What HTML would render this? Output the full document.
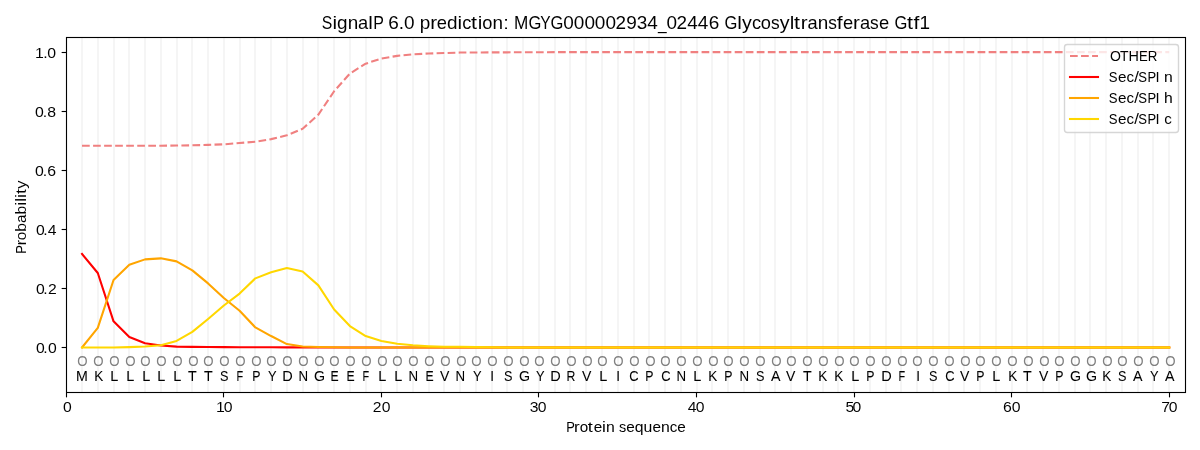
<!DOCTYPE html>
<html lang="en"><head><meta charset="utf-8"><title>SignalP 6.0 prediction</title>
<style>html,body{margin:0;padding:0;background:#fff;}body{width:1200px;height:450px;overflow:hidden;font-family:"Liberation Sans",sans-serif;}svg{display:block;will-change:transform;}text{font-family:"Liberation Sans",sans-serif;}</style>
</head><body>
<svg width="1200" height="450" viewBox="0 0 1200 450">
<rect x="0" y="0" width="1200" height="450" fill="#ffffff"/>
<g stroke="#f5f5f5" stroke-width="2.083" fill="none">
<line x1="82" y1="37.5" x2="82" y2="392.5"/>
<line x1="98" y1="37.5" x2="98" y2="392.5"/>
<line x1="114" y1="37.5" x2="114" y2="392.5"/>
<line x1="129" y1="37.5" x2="129" y2="392.5"/>
<line x1="145" y1="37.5" x2="145" y2="392.5"/>
<line x1="161" y1="37.5" x2="161" y2="392.5"/>
<line x1="177" y1="37.5" x2="177" y2="392.5"/>
<line x1="192" y1="37.5" x2="192" y2="392.5"/>
<line x1="208" y1="37.5" x2="208" y2="392.5"/>
<line x1="224" y1="37.5" x2="224" y2="392.5"/>
<line x1="240" y1="37.5" x2="240" y2="392.5"/>
<line x1="255" y1="37.5" x2="255" y2="392.5"/>
<line x1="271" y1="37.5" x2="271" y2="392.5"/>
<line x1="287" y1="37.5" x2="287" y2="392.5"/>
<line x1="303" y1="37.5" x2="303" y2="392.5"/>
<line x1="318" y1="37.5" x2="318" y2="392.5"/>
<line x1="334" y1="37.5" x2="334" y2="392.5"/>
<line x1="350" y1="37.5" x2="350" y2="392.5"/>
<line x1="366" y1="37.5" x2="366" y2="392.5"/>
<line x1="381" y1="37.5" x2="381" y2="392.5"/>
<line x1="397" y1="37.5" x2="397" y2="392.5"/>
<line x1="413" y1="37.5" x2="413" y2="392.5"/>
<line x1="429" y1="37.5" x2="429" y2="392.5"/>
<line x1="444" y1="37.5" x2="444" y2="392.5"/>
<line x1="460" y1="37.5" x2="460" y2="392.5"/>
<line x1="476" y1="37.5" x2="476" y2="392.5"/>
<line x1="492" y1="37.5" x2="492" y2="392.5"/>
<line x1="507" y1="37.5" x2="507" y2="392.5"/>
<line x1="523" y1="37.5" x2="523" y2="392.5"/>
<line x1="539" y1="37.5" x2="539" y2="392.5"/>
<line x1="555" y1="37.5" x2="555" y2="392.5"/>
<line x1="570" y1="37.5" x2="570" y2="392.5"/>
<line x1="586" y1="37.5" x2="586" y2="392.5"/>
<line x1="602" y1="37.5" x2="602" y2="392.5"/>
<line x1="618" y1="37.5" x2="618" y2="392.5"/>
<line x1="634" y1="37.5" x2="634" y2="392.5"/>
<line x1="649" y1="37.5" x2="649" y2="392.5"/>
<line x1="665" y1="37.5" x2="665" y2="392.5"/>
<line x1="681" y1="37.5" x2="681" y2="392.5"/>
<line x1="697" y1="37.5" x2="697" y2="392.5"/>
<line x1="712" y1="37.5" x2="712" y2="392.5"/>
<line x1="728" y1="37.5" x2="728" y2="392.5"/>
<line x1="744" y1="37.5" x2="744" y2="392.5"/>
<line x1="760" y1="37.5" x2="760" y2="392.5"/>
<line x1="775" y1="37.5" x2="775" y2="392.5"/>
<line x1="791" y1="37.5" x2="791" y2="392.5"/>
<line x1="807" y1="37.5" x2="807" y2="392.5"/>
<line x1="823" y1="37.5" x2="823" y2="392.5"/>
<line x1="838" y1="37.5" x2="838" y2="392.5"/>
<line x1="854" y1="37.5" x2="854" y2="392.5"/>
<line x1="870" y1="37.5" x2="870" y2="392.5"/>
<line x1="886" y1="37.5" x2="886" y2="392.5"/>
<line x1="901" y1="37.5" x2="901" y2="392.5"/>
<line x1="917" y1="37.5" x2="917" y2="392.5"/>
<line x1="933" y1="37.5" x2="933" y2="392.5"/>
<line x1="949" y1="37.5" x2="949" y2="392.5"/>
<line x1="964" y1="37.5" x2="964" y2="392.5"/>
<line x1="980" y1="37.5" x2="980" y2="392.5"/>
<line x1="996" y1="37.5" x2="996" y2="392.5"/>
<line x1="1012" y1="37.5" x2="1012" y2="392.5"/>
<line x1="1027" y1="37.5" x2="1027" y2="392.5"/>
<line x1="1043" y1="37.5" x2="1043" y2="392.5"/>
<line x1="1059" y1="37.5" x2="1059" y2="392.5"/>
<line x1="1075" y1="37.5" x2="1075" y2="392.5"/>
<line x1="1090" y1="37.5" x2="1090" y2="392.5"/>
<line x1="1106" y1="37.5" x2="1106" y2="392.5"/>
<line x1="1122" y1="37.5" x2="1122" y2="392.5"/>
<line x1="1138" y1="37.5" x2="1138" y2="392.5"/>
<line x1="1153" y1="37.5" x2="1153" y2="392.5"/>
<line x1="1169" y1="37.5" x2="1169" y2="392.5"/>
</g>
<defs><clipPath id="ax"><rect x="66.28" y="37.33" width="1118.72" height="354.39"/></clipPath></defs>
<g clip-path="url(#ax)" fill="none" stroke-width="2.083" stroke-linejoin="round">
<polyline points="82.03,145.72 97.79,145.72 113.55,145.72 129.30,145.72 145.06,145.72 160.82,145.72 176.57,145.57 192.33,145.30 208.09,144.89 223.84,144.30 239.60,143.06 255.36,141.70 271.11,139.13 286.87,135.29 302.63,128.80 318.38,114.62 334.14,91.29 349.90,73.57 365.65,63.68 381.41,58.51 397.17,55.85 412.92,54.37 428.68,53.49 444.44,53.04 460.19,52.57 475.95,52.48 491.71,52.39 507.46,52.34 523.22,52.28 538.98,52.22 554.73,52.16 570.49,52.10 586.25,52.10 602.00,52.10 617.76,52.10 633.52,52.10 649.27,52.10 665.03,52.10 680.79,52.10 696.54,52.10 712.30,52.10 728.06,52.10 743.81,52.10 759.57,52.10 775.33,52.10 791.08,52.10 806.84,52.10 822.60,52.10 838.35,52.10 854.11,52.10 869.87,52.10 885.62,52.10 901.38,52.10 917.14,52.10 932.89,52.10 948.65,52.10 964.41,52.10 980.16,52.10 995.92,52.10 1011.68,52.10 1027.43,52.10 1043.19,52.10 1058.95,52.10 1074.70,52.10 1090.46,52.10 1106.22,52.10 1121.97,52.10 1137.73,52.10 1153.49,52.10 1169.24,52.10" stroke="#f08080" stroke-dasharray="7.708 3.333" stroke-linecap="butt"/>
<polyline points="82.03,253.98 97.79,273.00 113.55,321.35 129.30,337.06 145.06,343.26 160.82,345.56 176.57,346.63 192.33,346.89 208.09,347.04 223.84,347.13 239.60,347.22 255.36,347.28 271.11,347.31 286.87,347.34 302.63,347.36 318.38,347.42 334.14,347.42 349.90,347.42 365.65,347.42 381.41,347.42 397.17,347.42 412.92,347.42 428.68,347.42 444.44,347.42 460.19,347.42 475.95,347.42 491.71,347.42 507.46,347.42 523.22,347.42 538.98,347.42 554.73,347.42 570.49,347.42 586.25,347.42 602.00,347.42 617.76,347.42 633.52,347.42 649.27,347.42 665.03,347.42 680.79,347.42 696.54,347.42 712.30,347.42 728.06,347.42 743.81,347.42 759.57,347.42 775.33,347.42 791.08,347.42 806.84,347.42 822.60,347.42 838.35,347.42 854.11,347.42 869.87,347.42 885.62,347.42 901.38,347.42 917.14,347.42 932.89,347.42 948.65,347.42 964.41,347.42 980.16,347.42 995.92,347.42 1011.68,347.42 1027.43,347.42 1043.19,347.42 1058.95,347.42 1074.70,347.42 1090.46,347.42 1106.22,347.42 1121.97,347.42 1137.73,347.42 1153.49,347.42 1169.24,347.42" stroke="#ff0000" stroke-linecap="square"/>
<polyline points="82.03,347.42 97.79,327.87 113.55,280.03 129.30,264.82 145.06,259.36 160.82,258.35 176.57,261.37 192.33,270.37 208.09,283.40 223.84,298.05 239.60,310.74 255.36,327.43 271.11,336.05 286.87,344.06 302.63,346.48 318.38,346.92 334.14,347.19 349.90,347.42 365.65,347.42 381.41,347.42 397.17,347.42 412.92,347.42 428.68,347.42 444.44,347.42 460.19,347.42 475.95,347.42 491.71,347.42 507.46,347.42 523.22,347.42 538.98,347.42 554.73,347.42 570.49,347.42 586.25,347.42 602.00,347.42 617.76,347.42 633.52,347.42 649.27,347.42 665.03,347.42 680.79,347.42 696.54,347.42 712.30,347.42 728.06,347.42 743.81,347.42 759.57,347.42 775.33,347.42 791.08,347.42 806.84,347.42 822.60,347.42 838.35,347.42 854.11,347.42 869.87,347.42 885.62,347.42 901.38,347.42 917.14,347.42 932.89,347.42 948.65,347.42 964.41,347.42 980.16,347.42 995.92,347.42 1011.68,347.42 1027.43,347.42 1043.19,347.42 1058.95,347.42 1074.70,347.42 1090.46,347.42 1106.22,347.42 1121.97,347.42 1137.73,347.42 1153.49,347.42 1169.24,347.42" stroke="#ffa500" stroke-linecap="square"/>
<polyline points="82.03,347.42 97.79,347.42 113.55,347.42 129.30,347.13 145.06,346.54 160.82,345.27 176.57,340.93 192.33,331.92 208.09,318.98 223.84,305.52 239.60,293.59 255.36,278.35 271.11,272.32 286.87,267.95 302.63,271.55 318.38,285.35 334.14,309.53 349.90,326.01 365.65,336.02 381.41,341.02 397.17,343.82 412.92,345.27 428.68,346.21 444.44,346.83 460.19,346.83 475.95,347.13 491.71,347.28 507.46,347.42 523.22,347.42 538.98,347.42 554.73,347.42 570.49,347.42 586.25,347.42 602.00,347.42 617.76,347.42 633.52,347.42 649.27,347.42 665.03,347.42 680.79,347.42 696.54,347.42 712.30,347.42 728.06,347.42 743.81,347.42 759.57,347.42 775.33,347.42 791.08,347.42 806.84,347.42 822.60,347.42 838.35,347.42 854.11,347.42 869.87,347.42 885.62,347.42 901.38,347.42 917.14,347.42 932.89,347.42 948.65,347.42 964.41,347.42 980.16,347.42 995.92,347.42 1011.68,347.42 1027.43,347.42 1043.19,347.42 1058.95,347.42 1074.70,347.42 1090.46,347.42 1106.22,347.42 1121.97,347.42 1137.73,347.42 1153.49,347.42 1169.24,347.42" stroke="#ffd700" stroke-linecap="square"/>
</g>
<rect x="66.5" y="37.5" width="1119" height="355" fill="none" stroke="#000" stroke-width="1.111" stroke-linejoin="miter"/>
<g stroke="#000" stroke-width="1.111">
<line x1="66.5" y1="392.5" x2="66.5" y2="397.36"/>
<line x1="223.5" y1="392.5" x2="223.5" y2="397.36"/>
<line x1="381.5" y1="392.5" x2="381.5" y2="397.36"/>
<line x1="538.5" y1="392.5" x2="538.5" y2="397.36"/>
<line x1="696.5" y1="392.5" x2="696.5" y2="397.36"/>
<line x1="854.5" y1="392.5" x2="854.5" y2="397.36"/>
<line x1="1011.5" y1="392.5" x2="1011.5" y2="397.36"/>
<line x1="1169.5" y1="392.5" x2="1169.5" y2="397.36"/>
<line x1="61.64" y1="347.5" x2="66.5" y2="347.5"/>
<line x1="61.64" y1="288.5" x2="66.5" y2="288.5"/>
<line x1="61.64" y1="229.5" x2="66.5" y2="229.5"/>
<line x1="61.64" y1="170.5" x2="66.5" y2="170.5"/>
<line x1="61.64" y1="111.5" x2="66.5" y2="111.5"/>
<line x1="61.64" y1="52.5" x2="66.5" y2="52.5"/>
</g>
<text y="29.00" font-size="17.67" fill="#000" stroke="#fff" stroke-width="0.015"><tspan x="321.64" textLength="10.54" lengthAdjust="spacingAndGlyphs">S</tspan><tspan x="332.43" textLength="4.61" lengthAdjust="spacingAndGlyphs">i</tspan><tspan x="336.92" textLength="10.54" lengthAdjust="spacingAndGlyphs">g</tspan><tspan x="347.70" textLength="10.52" lengthAdjust="spacingAndGlyphs">n</tspan><tspan x="357.98" textLength="10.17" lengthAdjust="spacingAndGlyphs">a</tspan><tspan x="368.15" textLength="4.61" lengthAdjust="spacingAndGlyphs">l</tspan><tspan x="373.22" textLength="10.35" lengthAdjust="spacingAndGlyphs">P</tspan> <tspan x="388.18" textLength="10.56" lengthAdjust="spacingAndGlyphs">6</tspan><tspan x="398.74" textLength="5.28" lengthAdjust="spacingAndGlyphs">.</tspan><tspan x="404.02" textLength="10.56" lengthAdjust="spacingAndGlyphs">0</tspan> <tspan x="419.73" textLength="10.54" lengthAdjust="spacingAndGlyphs">p</tspan><tspan x="430.15" textLength="6.83" lengthAdjust="spacingAndGlyphs">r</tspan><tspan x="436.85" textLength="10.21" lengthAdjust="spacingAndGlyphs">e</tspan><tspan x="446.94" textLength="10.54" lengthAdjust="spacingAndGlyphs">d</tspan><tspan x="457.48" textLength="4.61" lengthAdjust="spacingAndGlyphs">i</tspan><tspan x="462.21" textLength="9.13" lengthAdjust="spacingAndGlyphs">c</tspan><tspan x="470.98" textLength="5.97" lengthAdjust="spacingAndGlyphs">t</tspan><tspan x="477.73" textLength="4.61" lengthAdjust="spacingAndGlyphs">i</tspan><tspan x="482.21" textLength="10.16" lengthAdjust="spacingAndGlyphs">o</tspan><tspan x="492.50" textLength="10.52" lengthAdjust="spacingAndGlyphs">n</tspan><tspan x="503.27" textLength="5.59" lengthAdjust="spacingAndGlyphs">:</tspan> <tspan x="513.89" textLength="14.32" lengthAdjust="spacingAndGlyphs">M</tspan><tspan x="528.46" textLength="12.87" lengthAdjust="spacingAndGlyphs">G</tspan><tspan x="540.23" textLength="10.35" lengthAdjust="spacingAndGlyphs">Y</tspan><tspan x="550.47" textLength="12.87" lengthAdjust="spacingAndGlyphs">G</tspan><tspan x="563.21" textLength="10.56" lengthAdjust="spacingAndGlyphs">0</tspan><tspan x="573.65" textLength="10.56" lengthAdjust="spacingAndGlyphs">0</tspan><tspan x="584.46" textLength="10.56" lengthAdjust="spacingAndGlyphs">0</tspan><tspan x="594.65" textLength="10.56" lengthAdjust="spacingAndGlyphs">0</tspan><tspan x="605.46" textLength="10.56" lengthAdjust="spacingAndGlyphs">0</tspan><tspan x="615.40" textLength="10.56" lengthAdjust="spacingAndGlyphs">2</tspan><tspan x="626.22" textLength="10.56" lengthAdjust="spacingAndGlyphs">9</tspan><tspan x="636.65" textLength="10.56" lengthAdjust="spacingAndGlyphs">3</tspan><tspan x="647.34" textLength="10.56" lengthAdjust="spacingAndGlyphs">4</tspan><tspan x="657.99" textLength="8.63" lengthAdjust="spacingAndGlyphs">_</tspan><tspan x="666.46" textLength="10.56" lengthAdjust="spacingAndGlyphs">0</tspan><tspan x="676.64" textLength="10.56" lengthAdjust="spacingAndGlyphs">2</tspan><tspan x="687.21" textLength="10.56" lengthAdjust="spacingAndGlyphs">4</tspan><tspan x="697.77" textLength="10.56" lengthAdjust="spacingAndGlyphs">4</tspan><tspan x="708.71" textLength="10.56" lengthAdjust="spacingAndGlyphs">6</tspan> <tspan x="724.42" textLength="12.87" lengthAdjust="spacingAndGlyphs">G</tspan><tspan x="737.29" textLength="4.61" lengthAdjust="spacingAndGlyphs">l</tspan><tspan x="741.90" textLength="9.83" lengthAdjust="spacingAndGlyphs">y</tspan><tspan x="751.98" textLength="9.13" lengthAdjust="spacingAndGlyphs">c</tspan><tspan x="760.73" textLength="10.16" lengthAdjust="spacingAndGlyphs">o</tspan><tspan x="771.01" textLength="8.65" lengthAdjust="spacingAndGlyphs">s</tspan><tspan x="779.66" textLength="9.83" lengthAdjust="spacingAndGlyphs">y</tspan><tspan x="789.86" textLength="4.61" lengthAdjust="spacingAndGlyphs">l</tspan><tspan x="793.99" textLength="5.97" lengthAdjust="spacingAndGlyphs">t</tspan><tspan x="800.73" textLength="6.83" lengthAdjust="spacingAndGlyphs">r</tspan><tspan x="807.56" textLength="10.17" lengthAdjust="spacingAndGlyphs">a</tspan><tspan x="817.86" textLength="10.52" lengthAdjust="spacingAndGlyphs">n</tspan><tspan x="828.13" textLength="8.65" lengthAdjust="spacingAndGlyphs">s</tspan><tspan x="836.66" textLength="5.84" lengthAdjust="spacingAndGlyphs">f</tspan><tspan x="843.00" textLength="10.21" lengthAdjust="spacingAndGlyphs">e</tspan><tspan x="852.96" textLength="6.83" lengthAdjust="spacingAndGlyphs">r</tspan><tspan x="860.04" textLength="10.17" lengthAdjust="spacingAndGlyphs">a</tspan><tspan x="869.96" textLength="8.65" lengthAdjust="spacingAndGlyphs">s</tspan><tspan x="878.99" textLength="10.21" lengthAdjust="spacingAndGlyphs">e</tspan> <tspan x="894.48" textLength="12.87" lengthAdjust="spacingAndGlyphs">G</tspan><tspan x="906.99" textLength="5.97" lengthAdjust="spacingAndGlyphs">t</tspan><tspan x="913.48" textLength="5.84" lengthAdjust="spacingAndGlyphs">f</tspan><tspan x="919.45" textLength="10.56" lengthAdjust="spacingAndGlyphs">1</tspan></text>
<text y="432.00" font-size="14.72" fill="#000" stroke="#fff" stroke-width="0.005"><tspan x="566.24" textLength="8.66" lengthAdjust="spacingAndGlyphs">P</tspan><tspan x="573.99" textLength="5.69" lengthAdjust="spacingAndGlyphs">r</tspan><tspan x="579.81" textLength="8.47" lengthAdjust="spacingAndGlyphs">o</tspan><tspan x="587.75" textLength="5.00" lengthAdjust="spacingAndGlyphs">t</tspan><tspan x="593.72" textLength="8.52" lengthAdjust="spacingAndGlyphs">e</tspan><tspan x="601.99" textLength="3.85" lengthAdjust="spacingAndGlyphs">i</tspan><tspan x="605.96" textLength="8.78" lengthAdjust="spacingAndGlyphs">n</tspan> <tspan x="618.89" textLength="7.22" lengthAdjust="spacingAndGlyphs">s</tspan><tspan x="626.23" textLength="8.52" lengthAdjust="spacingAndGlyphs">e</tspan><tspan x="634.76" textLength="8.79" lengthAdjust="spacingAndGlyphs">q</tspan><tspan x="643.42" textLength="8.78" lengthAdjust="spacingAndGlyphs">u</tspan><tspan x="652.45" textLength="8.52" lengthAdjust="spacingAndGlyphs">e</tspan><tspan x="660.97" textLength="8.78" lengthAdjust="spacingAndGlyphs">n</tspan><tspan x="669.75" textLength="7.62" lengthAdjust="spacingAndGlyphs">c</tspan><tspan x="677.24" textLength="8.52" lengthAdjust="spacingAndGlyphs">e</tspan></text>
<g transform="translate(26,253.67) rotate(-90)"><text y="0.00" font-size="14.72" fill="#000" stroke="#fff" stroke-width="0.03"><tspan x="-0.16" textLength="8.66" lengthAdjust="spacingAndGlyphs">P</tspan><tspan x="8.09" textLength="5.68" lengthAdjust="spacingAndGlyphs">r</tspan><tspan x="13.52" textLength="8.46" lengthAdjust="spacingAndGlyphs">o</tspan><tspan x="21.98" textLength="8.78" lengthAdjust="spacingAndGlyphs">b</tspan><tspan x="30.76" textLength="8.47" lengthAdjust="spacingAndGlyphs">a</tspan><tspan x="39.23" textLength="8.78" lengthAdjust="spacingAndGlyphs">b</tspan><tspan x="48.01" textLength="3.84" lengthAdjust="spacingAndGlyphs">i</tspan><tspan x="51.85" textLength="3.84" lengthAdjust="spacingAndGlyphs">l</tspan><tspan x="55.69" textLength="3.84" lengthAdjust="spacingAndGlyphs">i</tspan><tspan x="59.74" textLength="5.00" lengthAdjust="spacingAndGlyphs">t</tspan><tspan x="64.95" textLength="8.18" lengthAdjust="spacingAndGlyphs">y</tspan></text></g>
<text y="412.00" font-size="14.72" fill="#000" stroke="#fff" stroke-width="0.035"><tspan x="62.90" textLength="8.75" lengthAdjust="spacingAndGlyphs">0</tspan></text>
<text y="412.00" font-size="14.72" fill="#000" stroke="#fff" stroke-width="0.035"><tspan x="215.91" textLength="8.81" lengthAdjust="spacingAndGlyphs">1</tspan><tspan x="223.72" textLength="8.81" lengthAdjust="spacingAndGlyphs">0</tspan></text>
<text y="412.00" font-size="14.72" fill="#000" stroke="#fff" stroke-width="0.035"><tspan x="372.66" textLength="8.75" lengthAdjust="spacingAndGlyphs">2</tspan><tspan x="381.66" textLength="8.75" lengthAdjust="spacingAndGlyphs">0</tspan></text>
<text y="412.00" font-size="14.72" fill="#000" stroke="#fff" stroke-width="0.035"><tspan x="529.73" textLength="8.75" lengthAdjust="spacingAndGlyphs">3</tspan><tspan x="537.73" textLength="8.75" lengthAdjust="spacingAndGlyphs">0</tspan></text>
<text y="412.00" font-size="14.72" fill="#000" stroke="#fff" stroke-width="0.035"><tspan x="687.67" textLength="8.75" lengthAdjust="spacingAndGlyphs">4</tspan><tspan x="695.67" textLength="8.75" lengthAdjust="spacingAndGlyphs">0</tspan></text>
<text y="412.00" font-size="14.72" fill="#000" stroke="#fff" stroke-width="0.035"><tspan x="845.49" textLength="8.75" lengthAdjust="spacingAndGlyphs">5</tspan><tspan x="852.49" textLength="8.75" lengthAdjust="spacingAndGlyphs">0</tspan></text>
<text y="412.00" font-size="14.72" fill="#000" stroke="#fff" stroke-width="0.035"><tspan x="1002.99" textLength="8.81" lengthAdjust="spacingAndGlyphs">6</tspan><tspan x="1011.68" textLength="8.81" lengthAdjust="spacingAndGlyphs">0</tspan></text>
<text y="412.00" font-size="14.72" fill="#000" stroke="#fff" stroke-width="0.035"><tspan x="1161.24" textLength="8.75" lengthAdjust="spacingAndGlyphs">7</tspan><tspan x="1168.74" textLength="8.75" lengthAdjust="spacingAndGlyphs">0</tspan></text>
<text y="353.00" font-size="14.72" fill="#000" stroke="#fff" stroke-width="0.02"><tspan x="35.93" textLength="8.75" lengthAdjust="spacingAndGlyphs">0</tspan><tspan x="43.18" textLength="4.37" lengthAdjust="spacingAndGlyphs">.</tspan><tspan x="47.93" textLength="8.75" lengthAdjust="spacingAndGlyphs">0</tspan></text>
<text y="294.00" font-size="14.72" fill="#000" stroke="#fff" stroke-width="0.02"><tspan x="35.93" textLength="8.75" lengthAdjust="spacingAndGlyphs">0</tspan><tspan x="43.18" textLength="4.37" lengthAdjust="spacingAndGlyphs">.</tspan><tspan x="47.93" textLength="8.75" lengthAdjust="spacingAndGlyphs">2</tspan></text>
<text y="235.00" font-size="14.72" fill="#000" stroke="#fff" stroke-width="0.02"><tspan x="35.93" textLength="8.75" lengthAdjust="spacingAndGlyphs">0</tspan><tspan x="43.31" textLength="4.37" lengthAdjust="spacingAndGlyphs">.</tspan><tspan x="47.68" textLength="8.75" lengthAdjust="spacingAndGlyphs">4</tspan></text>
<text y="176.00" font-size="14.72" fill="#000" stroke="#fff" stroke-width="0.02"><tspan x="34.93" textLength="8.80" lengthAdjust="spacingAndGlyphs">0</tspan><tspan x="42.86" textLength="4.40" lengthAdjust="spacingAndGlyphs">.</tspan><tspan x="47.25" textLength="8.80" lengthAdjust="spacingAndGlyphs">6</tspan></text>
<text y="117.00" font-size="14.72" fill="#000" stroke="#fff" stroke-width="0.02"><tspan x="34.93" textLength="8.80" lengthAdjust="spacingAndGlyphs">0</tspan><tspan x="42.86" textLength="4.40" lengthAdjust="spacingAndGlyphs">.</tspan><tspan x="47.25" textLength="8.80" lengthAdjust="spacingAndGlyphs">8</tspan></text>
<text y="58.00" font-size="14.72" fill="#000" stroke="#fff" stroke-width="0.02"><tspan x="34.93" textLength="8.80" lengthAdjust="spacingAndGlyphs">1</tspan><tspan x="43.36" textLength="4.40" lengthAdjust="spacingAndGlyphs">.</tspan><tspan x="47.25" textLength="8.80" lengthAdjust="spacingAndGlyphs">0</tspan></text>
<text x="77.23" y="366.00" font-size="14.72" fill="#808080" textLength="10.30" lengthAdjust="spacingAndGlyphs" stroke="#808080" stroke-width="0.025">O</text>
<text x="75.96" y="381.00" font-size="14.72" fill="#000000" textLength="11.82" lengthAdjust="spacingAndGlyphs" stroke="#000000" stroke-width="0.06">M</text>
<text x="93.18" y="366.00" font-size="14.72" fill="#808080" textLength="10.30" lengthAdjust="spacingAndGlyphs" stroke="#808080" stroke-width="0.025">O</text>
<text x="94.23" y="381.00" font-size="14.72" fill="#000000" textLength="9.03" lengthAdjust="spacingAndGlyphs" stroke="#000000" stroke-width="0.06">K</text>
<text x="109.16" y="366.00" font-size="14.72" fill="#808080" textLength="10.30" lengthAdjust="spacingAndGlyphs" stroke="#808080" stroke-width="0.025">O</text>
<text x="110.17" y="381.00" font-size="14.72" fill="#000000" textLength="8.02" lengthAdjust="spacingAndGlyphs" stroke="#000000" stroke-width="0.06">L</text>
<text x="125.23" y="366.00" font-size="14.72" fill="#808080" textLength="10.30" lengthAdjust="spacingAndGlyphs" stroke="#808080" stroke-width="0.025">O</text>
<text x="126.20" y="381.00" font-size="14.72" fill="#000000" textLength="8.02" lengthAdjust="spacingAndGlyphs" stroke="#000000" stroke-width="0.06">L</text>
<text x="140.14" y="366.00" font-size="14.72" fill="#808080" textLength="10.30" lengthAdjust="spacingAndGlyphs" stroke="#808080" stroke-width="0.025">O</text>
<text x="142.24" y="381.00" font-size="14.72" fill="#000000" textLength="8.02" lengthAdjust="spacingAndGlyphs" stroke="#000000" stroke-width="0.06">L</text>
<text x="156.24" y="366.00" font-size="14.72" fill="#808080" textLength="10.30" lengthAdjust="spacingAndGlyphs" stroke="#808080" stroke-width="0.025">O</text>
<text x="157.23" y="381.00" font-size="14.72" fill="#000000" textLength="8.02" lengthAdjust="spacingAndGlyphs" stroke="#000000" stroke-width="0.06">L</text>
<text x="172.23" y="366.00" font-size="14.72" fill="#808080" textLength="10.30" lengthAdjust="spacingAndGlyphs" stroke="#808080" stroke-width="0.025">O</text>
<text x="173.20" y="381.00" font-size="14.72" fill="#000000" textLength="8.02" lengthAdjust="spacingAndGlyphs" stroke="#000000" stroke-width="0.06">L</text>
<text x="188.17" y="366.00" font-size="14.72" fill="#808080" textLength="10.30" lengthAdjust="spacingAndGlyphs" stroke="#808080" stroke-width="0.025">O</text>
<text x="187.93" y="381.00" font-size="14.72" fill="#000000" textLength="8.69" lengthAdjust="spacingAndGlyphs" stroke="#000000" stroke-width="0.06">T</text>
<text x="203.15" y="366.00" font-size="14.72" fill="#808080" textLength="10.30" lengthAdjust="spacingAndGlyphs" stroke="#808080" stroke-width="0.025">O</text>
<text x="203.95" y="381.00" font-size="14.72" fill="#000000" textLength="8.69" lengthAdjust="spacingAndGlyphs" stroke="#000000" stroke-width="0.06">T</text>
<text x="219.14" y="366.00" font-size="14.72" fill="#808080" textLength="10.30" lengthAdjust="spacingAndGlyphs" stroke="#808080" stroke-width="0.025">O</text>
<text x="219.97" y="381.00" font-size="14.72" fill="#000000" textLength="8.45" lengthAdjust="spacingAndGlyphs" stroke="#000000" stroke-width="0.06">S</text>
<text x="235.13" y="366.00" font-size="14.72" fill="#808080" textLength="10.30" lengthAdjust="spacingAndGlyphs" stroke="#808080" stroke-width="0.025">O</text>
<text x="236.38" y="381.00" font-size="14.72" fill="#000000" textLength="6.63" lengthAdjust="spacingAndGlyphs" stroke="#000000" stroke-width="0.06">F</text>
<text x="251.19" y="366.00" font-size="14.72" fill="#808080" textLength="10.30" lengthAdjust="spacingAndGlyphs" stroke="#808080" stroke-width="0.025">O</text>
<text x="252.17" y="381.00" font-size="14.72" fill="#000000" textLength="8.21" lengthAdjust="spacingAndGlyphs" stroke="#000000" stroke-width="0.06">P</text>
<text x="266.18" y="366.00" font-size="14.72" fill="#808080" textLength="10.30" lengthAdjust="spacingAndGlyphs" stroke="#808080" stroke-width="0.025">O</text>
<text x="267.98" y="381.00" font-size="14.72" fill="#000000" textLength="8.58" lengthAdjust="spacingAndGlyphs" stroke="#000000" stroke-width="0.06">Y</text>
<text x="282.17" y="366.00" font-size="14.72" fill="#808080" textLength="10.30" lengthAdjust="spacingAndGlyphs" stroke="#808080" stroke-width="0.025">O</text>
<text x="282.24" y="381.00" font-size="14.72" fill="#000000" textLength="10.49" lengthAdjust="spacingAndGlyphs" stroke="#000000" stroke-width="0.06">D</text>
<text x="298.16" y="366.00" font-size="14.72" fill="#808080" textLength="10.30" lengthAdjust="spacingAndGlyphs" stroke="#808080" stroke-width="0.025">O</text>
<text x="298.38" y="381.00" font-size="14.72" fill="#000000" textLength="9.61" lengthAdjust="spacingAndGlyphs" stroke="#000000" stroke-width="0.06">N</text>
<text x="314.23" y="366.00" font-size="14.72" fill="#808080" textLength="10.30" lengthAdjust="spacingAndGlyphs" stroke="#808080" stroke-width="0.025">O</text>
<text x="313.89" y="381.00" font-size="14.72" fill="#000000" textLength="11.05" lengthAdjust="spacingAndGlyphs" stroke="#000000" stroke-width="0.06">G</text>
<text x="329.23" y="366.00" font-size="14.72" fill="#808080" textLength="10.30" lengthAdjust="spacingAndGlyphs" stroke="#808080" stroke-width="0.025">O</text>
<text x="330.40" y="381.00" font-size="14.72" fill="#000000" textLength="8.17" lengthAdjust="spacingAndGlyphs" stroke="#000000" stroke-width="0.06">E</text>
<text x="345.25" y="366.00" font-size="14.72" fill="#808080" textLength="10.30" lengthAdjust="spacingAndGlyphs" stroke="#808080" stroke-width="0.025">O</text>
<text x="346.45" y="381.00" font-size="14.72" fill="#000000" textLength="8.17" lengthAdjust="spacingAndGlyphs" stroke="#000000" stroke-width="0.06">E</text>
<text x="361.17" y="366.00" font-size="14.72" fill="#808080" textLength="10.30" lengthAdjust="spacingAndGlyphs" stroke="#808080" stroke-width="0.025">O</text>
<text x="362.46" y="381.00" font-size="14.72" fill="#000000" textLength="6.63" lengthAdjust="spacingAndGlyphs" stroke="#000000" stroke-width="0.06">F</text>
<text x="377.25" y="366.00" font-size="14.72" fill="#808080" textLength="10.30" lengthAdjust="spacingAndGlyphs" stroke="#808080" stroke-width="0.025">O</text>
<text x="378.13" y="381.00" font-size="14.72" fill="#000000" textLength="8.02" lengthAdjust="spacingAndGlyphs" stroke="#000000" stroke-width="0.06">L</text>
<text x="392.14" y="366.00" font-size="14.72" fill="#808080" textLength="10.30" lengthAdjust="spacingAndGlyphs" stroke="#808080" stroke-width="0.025">O</text>
<text x="394.23" y="381.00" font-size="14.72" fill="#000000" textLength="8.02" lengthAdjust="spacingAndGlyphs" stroke="#000000" stroke-width="0.06">L</text>
<text x="408.21" y="366.00" font-size="14.72" fill="#808080" textLength="10.30" lengthAdjust="spacingAndGlyphs" stroke="#808080" stroke-width="0.025">O</text>
<text x="408.44" y="381.00" font-size="14.72" fill="#000000" textLength="9.61" lengthAdjust="spacingAndGlyphs" stroke="#000000" stroke-width="0.06">N</text>
<text x="424.23" y="366.00" font-size="14.72" fill="#808080" textLength="10.30" lengthAdjust="spacingAndGlyphs" stroke="#808080" stroke-width="0.025">O</text>
<text x="425.40" y="381.00" font-size="14.72" fill="#000000" textLength="8.17" lengthAdjust="spacingAndGlyphs" stroke="#000000" stroke-width="0.06">E</text>
<text x="440.18" y="366.00" font-size="14.72" fill="#808080" textLength="10.30" lengthAdjust="spacingAndGlyphs" stroke="#808080" stroke-width="0.025">O</text>
<text x="439.99" y="381.00" font-size="14.72" fill="#000000" textLength="9.36" lengthAdjust="spacingAndGlyphs" stroke="#000000" stroke-width="0.06">V</text>
<text x="456.23" y="366.00" font-size="14.72" fill="#808080" textLength="10.30" lengthAdjust="spacingAndGlyphs" stroke="#808080" stroke-width="0.025">O</text>
<text x="455.49" y="381.00" font-size="14.72" fill="#000000" textLength="9.61" lengthAdjust="spacingAndGlyphs" stroke="#000000" stroke-width="0.06">N</text>
<text x="471.21" y="366.00" font-size="14.72" fill="#808080" textLength="10.30" lengthAdjust="spacingAndGlyphs" stroke="#808080" stroke-width="0.025">O</text>
<text x="472.90" y="381.00" font-size="14.72" fill="#000000" textLength="8.58" lengthAdjust="spacingAndGlyphs" stroke="#000000" stroke-width="0.06">Y</text>
<text x="487.13" y="366.00" font-size="14.72" fill="#808080" textLength="10.30" lengthAdjust="spacingAndGlyphs" stroke="#808080" stroke-width="0.025">O</text>
<text x="490.21" y="381.00" font-size="14.72" fill="#000000" textLength="3.75" lengthAdjust="spacingAndGlyphs" stroke="#000000" stroke-width="0.06">I</text>
<text x="503.17" y="366.00" font-size="14.72" fill="#808080" textLength="10.30" lengthAdjust="spacingAndGlyphs" stroke="#808080" stroke-width="0.025">O</text>
<text x="503.94" y="381.00" font-size="14.72" fill="#000000" textLength="8.45" lengthAdjust="spacingAndGlyphs" stroke="#000000" stroke-width="0.06">S</text>
<text x="519.25" y="366.00" font-size="14.72" fill="#808080" textLength="10.30" lengthAdjust="spacingAndGlyphs" stroke="#808080" stroke-width="0.025">O</text>
<text x="519.00" y="381.00" font-size="14.72" fill="#000000" textLength="11.05" lengthAdjust="spacingAndGlyphs" stroke="#000000" stroke-width="0.06">G</text>
<text x="534.24" y="366.00" font-size="14.72" fill="#808080" textLength="10.30" lengthAdjust="spacingAndGlyphs" stroke="#808080" stroke-width="0.025">O</text>
<text x="535.93" y="381.00" font-size="14.72" fill="#000000" textLength="8.58" lengthAdjust="spacingAndGlyphs" stroke="#000000" stroke-width="0.06">Y</text>
<text x="550.16" y="366.00" font-size="14.72" fill="#808080" textLength="10.30" lengthAdjust="spacingAndGlyphs" stroke="#808080" stroke-width="0.025">O</text>
<text x="550.24" y="381.00" font-size="14.72" fill="#000000" textLength="10.49" lengthAdjust="spacingAndGlyphs" stroke="#000000" stroke-width="0.06">D</text>
<text x="566.20" y="366.00" font-size="14.72" fill="#808080" textLength="10.30" lengthAdjust="spacingAndGlyphs" stroke="#808080" stroke-width="0.025">O</text>
<text x="566.49" y="381.00" font-size="14.72" fill="#000000" textLength="8.86" lengthAdjust="spacingAndGlyphs" stroke="#000000" stroke-width="0.06">R</text>
<text x="582.17" y="366.00" font-size="14.72" fill="#808080" textLength="10.30" lengthAdjust="spacingAndGlyphs" stroke="#808080" stroke-width="0.025">O</text>
<text x="581.92" y="381.00" font-size="14.72" fill="#000000" textLength="9.36" lengthAdjust="spacingAndGlyphs" stroke="#000000" stroke-width="0.06">V</text>
<text x="597.15" y="366.00" font-size="14.72" fill="#808080" textLength="10.30" lengthAdjust="spacingAndGlyphs" stroke="#808080" stroke-width="0.025">O</text>
<text x="599.24" y="381.00" font-size="14.72" fill="#000000" textLength="8.02" lengthAdjust="spacingAndGlyphs" stroke="#000000" stroke-width="0.06">L</text>
<text x="613.18" y="366.00" font-size="14.72" fill="#808080" textLength="10.30" lengthAdjust="spacingAndGlyphs" stroke="#808080" stroke-width="0.025">O</text>
<text x="616.14" y="381.00" font-size="14.72" fill="#000000" textLength="3.75" lengthAdjust="spacingAndGlyphs" stroke="#000000" stroke-width="0.06">I</text>
<text x="629.13" y="366.00" font-size="14.72" fill="#808080" textLength="10.30" lengthAdjust="spacingAndGlyphs" stroke="#808080" stroke-width="0.025">O</text>
<text x="629.23" y="381.00" font-size="14.72" fill="#000000" textLength="9.34" lengthAdjust="spacingAndGlyphs" stroke="#000000" stroke-width="0.06">C</text>
<text x="645.19" y="366.00" font-size="14.72" fill="#808080" textLength="10.30" lengthAdjust="spacingAndGlyphs" stroke="#808080" stroke-width="0.025">O</text>
<text x="645.23" y="381.00" font-size="14.72" fill="#000000" textLength="8.21" lengthAdjust="spacingAndGlyphs" stroke="#000000" stroke-width="0.06">P</text>
<text x="660.17" y="366.00" font-size="14.72" fill="#808080" textLength="10.30" lengthAdjust="spacingAndGlyphs" stroke="#808080" stroke-width="0.025">O</text>
<text x="661.13" y="381.00" font-size="14.72" fill="#000000" textLength="9.34" lengthAdjust="spacingAndGlyphs" stroke="#000000" stroke-width="0.06">C</text>
<text x="676.23" y="366.00" font-size="14.72" fill="#808080" textLength="10.30" lengthAdjust="spacingAndGlyphs" stroke="#808080" stroke-width="0.025">O</text>
<text x="676.43" y="381.00" font-size="14.72" fill="#000000" textLength="9.61" lengthAdjust="spacingAndGlyphs" stroke="#000000" stroke-width="0.06">N</text>
<text x="692.16" y="366.00" font-size="14.72" fill="#808080" textLength="10.30" lengthAdjust="spacingAndGlyphs" stroke="#808080" stroke-width="0.025">O</text>
<text x="693.17" y="381.00" font-size="14.72" fill="#000000" textLength="8.02" lengthAdjust="spacingAndGlyphs" stroke="#000000" stroke-width="0.06">L</text>
<text x="708.23" y="366.00" font-size="14.72" fill="#808080" textLength="10.30" lengthAdjust="spacingAndGlyphs" stroke="#808080" stroke-width="0.025">O</text>
<text x="708.21" y="381.00" font-size="14.72" fill="#000000" textLength="9.03" lengthAdjust="spacingAndGlyphs" stroke="#000000" stroke-width="0.06">K</text>
<text x="723.13" y="366.00" font-size="14.72" fill="#808080" textLength="10.30" lengthAdjust="spacingAndGlyphs" stroke="#808080" stroke-width="0.025">O</text>
<text x="724.16" y="381.00" font-size="14.72" fill="#000000" textLength="8.21" lengthAdjust="spacingAndGlyphs" stroke="#000000" stroke-width="0.06">P</text>
<text x="739.23" y="366.00" font-size="14.72" fill="#808080" textLength="10.30" lengthAdjust="spacingAndGlyphs" stroke="#808080" stroke-width="0.025">O</text>
<text x="739.40" y="381.00" font-size="14.72" fill="#000000" textLength="9.61" lengthAdjust="spacingAndGlyphs" stroke="#000000" stroke-width="0.06">N</text>
<text x="755.22" y="366.00" font-size="14.72" fill="#808080" textLength="10.30" lengthAdjust="spacingAndGlyphs" stroke="#808080" stroke-width="0.025">O</text>
<text x="755.94" y="381.00" font-size="14.72" fill="#000000" textLength="8.45" lengthAdjust="spacingAndGlyphs" stroke="#000000" stroke-width="0.06">S</text>
<text x="771.25" y="366.00" font-size="14.72" fill="#808080" textLength="10.30" lengthAdjust="spacingAndGlyphs" stroke="#808080" stroke-width="0.025">O</text>
<text x="770.98" y="381.00" font-size="14.72" fill="#000000" textLength="9.52" lengthAdjust="spacingAndGlyphs" stroke="#000000" stroke-width="0.06">A</text>
<text x="786.16" y="366.00" font-size="14.72" fill="#808080" textLength="10.30" lengthAdjust="spacingAndGlyphs" stroke="#808080" stroke-width="0.025">O</text>
<text x="785.92" y="381.00" font-size="14.72" fill="#000000" textLength="9.36" lengthAdjust="spacingAndGlyphs" stroke="#000000" stroke-width="0.06">V</text>
<text x="802.14" y="366.00" font-size="14.72" fill="#808080" textLength="10.30" lengthAdjust="spacingAndGlyphs" stroke="#808080" stroke-width="0.025">O</text>
<text x="802.93" y="381.00" font-size="14.72" fill="#000000" textLength="8.69" lengthAdjust="spacingAndGlyphs" stroke="#000000" stroke-width="0.06">T</text>
<text x="818.25" y="366.00" font-size="14.72" fill="#808080" textLength="10.30" lengthAdjust="spacingAndGlyphs" stroke="#808080" stroke-width="0.025">O</text>
<text x="818.19" y="381.00" font-size="14.72" fill="#000000" textLength="9.03" lengthAdjust="spacingAndGlyphs" stroke="#000000" stroke-width="0.06">K</text>
<text x="834.19" y="366.00" font-size="14.72" fill="#808080" textLength="10.30" lengthAdjust="spacingAndGlyphs" stroke="#808080" stroke-width="0.025">O</text>
<text x="834.17" y="381.00" font-size="14.72" fill="#000000" textLength="9.03" lengthAdjust="spacingAndGlyphs" stroke="#000000" stroke-width="0.06">K</text>
<text x="849.17" y="366.00" font-size="14.72" fill="#808080" textLength="10.30" lengthAdjust="spacingAndGlyphs" stroke="#808080" stroke-width="0.025">O</text>
<text x="851.17" y="381.00" font-size="14.72" fill="#000000" textLength="8.02" lengthAdjust="spacingAndGlyphs" stroke="#000000" stroke-width="0.06">L</text>
<text x="865.16" y="366.00" font-size="14.72" fill="#808080" textLength="10.30" lengthAdjust="spacingAndGlyphs" stroke="#808080" stroke-width="0.025">O</text>
<text x="866.18" y="381.00" font-size="14.72" fill="#000000" textLength="8.21" lengthAdjust="spacingAndGlyphs" stroke="#000000" stroke-width="0.06">P</text>
<text x="881.15" y="366.00" font-size="14.72" fill="#808080" textLength="10.30" lengthAdjust="spacingAndGlyphs" stroke="#808080" stroke-width="0.025">O</text>
<text x="881.23" y="381.00" font-size="14.72" fill="#000000" textLength="10.49" lengthAdjust="spacingAndGlyphs" stroke="#000000" stroke-width="0.06">D</text>
<text x="897.22" y="366.00" font-size="14.72" fill="#808080" textLength="10.30" lengthAdjust="spacingAndGlyphs" stroke="#808080" stroke-width="0.025">O</text>
<text x="898.43" y="381.00" font-size="14.72" fill="#000000" textLength="6.63" lengthAdjust="spacingAndGlyphs" stroke="#000000" stroke-width="0.06">F</text>
<text x="912.23" y="366.00" font-size="14.72" fill="#808080" textLength="10.30" lengthAdjust="spacingAndGlyphs" stroke="#808080" stroke-width="0.025">O</text>
<text x="916.17" y="381.00" font-size="14.72" fill="#000000" textLength="3.75" lengthAdjust="spacingAndGlyphs" stroke="#000000" stroke-width="0.06">I</text>
<text x="928.24" y="366.00" font-size="14.72" fill="#808080" textLength="10.30" lengthAdjust="spacingAndGlyphs" stroke="#808080" stroke-width="0.025">O</text>
<text x="928.90" y="381.00" font-size="14.72" fill="#000000" textLength="8.45" lengthAdjust="spacingAndGlyphs" stroke="#000000" stroke-width="0.06">S</text>
<text x="944.17" y="366.00" font-size="14.72" fill="#808080" textLength="10.30" lengthAdjust="spacingAndGlyphs" stroke="#808080" stroke-width="0.025">O</text>
<text x="945.15" y="381.00" font-size="14.72" fill="#000000" textLength="9.34" lengthAdjust="spacingAndGlyphs" stroke="#000000" stroke-width="0.06">C</text>
<text x="960.24" y="366.00" font-size="14.72" fill="#808080" textLength="10.30" lengthAdjust="spacingAndGlyphs" stroke="#808080" stroke-width="0.025">O</text>
<text x="959.96" y="381.00" font-size="14.72" fill="#000000" textLength="9.36" lengthAdjust="spacingAndGlyphs" stroke="#000000" stroke-width="0.06">V</text>
<text x="975.13" y="366.00" font-size="14.72" fill="#808080" textLength="10.30" lengthAdjust="spacingAndGlyphs" stroke="#808080" stroke-width="0.025">O</text>
<text x="976.14" y="381.00" font-size="14.72" fill="#000000" textLength="8.21" lengthAdjust="spacingAndGlyphs" stroke="#000000" stroke-width="0.06">P</text>
<text x="991.15" y="366.00" font-size="14.72" fill="#808080" textLength="10.30" lengthAdjust="spacingAndGlyphs" stroke="#808080" stroke-width="0.025">O</text>
<text x="992.15" y="381.00" font-size="14.72" fill="#000000" textLength="8.02" lengthAdjust="spacingAndGlyphs" stroke="#000000" stroke-width="0.06">L</text>
<text x="1007.22" y="366.00" font-size="14.72" fill="#808080" textLength="10.30" lengthAdjust="spacingAndGlyphs" stroke="#808080" stroke-width="0.025">O</text>
<text x="1008.15" y="381.00" font-size="14.72" fill="#000000" textLength="9.03" lengthAdjust="spacingAndGlyphs" stroke="#000000" stroke-width="0.06">K</text>
<text x="1023.18" y="366.00" font-size="14.72" fill="#808080" textLength="10.30" lengthAdjust="spacingAndGlyphs" stroke="#808080" stroke-width="0.025">O</text>
<text x="1022.88" y="381.00" font-size="14.72" fill="#000000" textLength="8.69" lengthAdjust="spacingAndGlyphs" stroke="#000000" stroke-width="0.06">T</text>
<text x="1039.22" y="366.00" font-size="14.72" fill="#808080" textLength="10.30" lengthAdjust="spacingAndGlyphs" stroke="#808080" stroke-width="0.025">O</text>
<text x="1038.98" y="381.00" font-size="14.72" fill="#000000" textLength="9.36" lengthAdjust="spacingAndGlyphs" stroke="#000000" stroke-width="0.06">V</text>
<text x="1054.21" y="366.00" font-size="14.72" fill="#808080" textLength="10.30" lengthAdjust="spacingAndGlyphs" stroke="#808080" stroke-width="0.025">O</text>
<text x="1055.24" y="381.00" font-size="14.72" fill="#000000" textLength="8.21" lengthAdjust="spacingAndGlyphs" stroke="#000000" stroke-width="0.06">P</text>
<text x="1070.13" y="366.00" font-size="14.72" fill="#808080" textLength="10.30" lengthAdjust="spacingAndGlyphs" stroke="#808080" stroke-width="0.025">O</text>
<text x="1069.89" y="381.00" font-size="14.72" fill="#000000" textLength="11.05" lengthAdjust="spacingAndGlyphs" stroke="#000000" stroke-width="0.06">G</text>
<text x="1086.17" y="366.00" font-size="14.72" fill="#808080" textLength="10.30" lengthAdjust="spacingAndGlyphs" stroke="#808080" stroke-width="0.025">O</text>
<text x="1085.93" y="381.00" font-size="14.72" fill="#000000" textLength="11.05" lengthAdjust="spacingAndGlyphs" stroke="#000000" stroke-width="0.06">G</text>
<text x="1102.24" y="366.00" font-size="14.72" fill="#808080" textLength="10.30" lengthAdjust="spacingAndGlyphs" stroke="#808080" stroke-width="0.025">O</text>
<text x="1102.23" y="381.00" font-size="14.72" fill="#000000" textLength="9.03" lengthAdjust="spacingAndGlyphs" stroke="#000000" stroke-width="0.06">K</text>
<text x="1117.24" y="366.00" font-size="14.72" fill="#808080" textLength="10.30" lengthAdjust="spacingAndGlyphs" stroke="#808080" stroke-width="0.025">O</text>
<text x="1117.98" y="381.00" font-size="14.72" fill="#000000" textLength="8.45" lengthAdjust="spacingAndGlyphs" stroke="#000000" stroke-width="0.06">S</text>
<text x="1133.16" y="366.00" font-size="14.72" fill="#808080" textLength="10.30" lengthAdjust="spacingAndGlyphs" stroke="#808080" stroke-width="0.025">O</text>
<text x="1132.95" y="381.00" font-size="14.72" fill="#000000" textLength="9.52" lengthAdjust="spacingAndGlyphs" stroke="#000000" stroke-width="0.06">A</text>
<text x="1149.20" y="366.00" font-size="14.72" fill="#808080" textLength="10.30" lengthAdjust="spacingAndGlyphs" stroke="#808080" stroke-width="0.025">O</text>
<text x="1149.99" y="381.00" font-size="14.72" fill="#000000" textLength="8.58" lengthAdjust="spacingAndGlyphs" stroke="#000000" stroke-width="0.06">Y</text>
<text x="1165.16" y="366.00" font-size="14.72" fill="#808080" textLength="10.30" lengthAdjust="spacingAndGlyphs" stroke="#808080" stroke-width="0.025">O</text>
<text x="1164.98" y="381.00" font-size="14.72" fill="#000000" textLength="9.52" lengthAdjust="spacingAndGlyphs" stroke="#000000" stroke-width="0.06">A</text>
<rect x="1064.5" y="44.5" width="114" height="88" rx="2.78" ry="2.78" fill="#ffffff" fill-opacity="0.8" stroke="#cccccc" stroke-opacity="0.8" stroke-width="1.389"/>
<g fill="none" stroke-width="2.083">
<line x1="1070" y1="56" x2="1098" y2="56" stroke="#f08080" stroke-dasharray="7.708 3.333"/>
<line x1="1070" y1="77" x2="1098" y2="77" stroke="#ff0000" stroke-linecap="square"/>
<line x1="1070" y1="98" x2="1098" y2="98" stroke="#ffa500" stroke-linecap="square"/>
<line x1="1070" y1="119" x2="1098" y2="119" stroke="#ffd700" stroke-linecap="square"/>
</g>
<text y="61.00" font-size="14.72" fill="#000" stroke="#fff" stroke-width="0.005"><tspan x="1109.88" textLength="10.90" lengthAdjust="spacingAndGlyphs">O</tspan><tspan x="1119.90" textLength="8.46" lengthAdjust="spacingAndGlyphs">T</tspan><tspan x="1128.60" textLength="10.41" lengthAdjust="spacingAndGlyphs">H</tspan><tspan x="1138.89" textLength="8.75" lengthAdjust="spacingAndGlyphs">E</tspan><tspan x="1147.63" textLength="9.62" lengthAdjust="spacingAndGlyphs">R</tspan></text>
<text y="82.00" font-size="14.72" fill="#000" stroke="#fff" stroke-width="0.005"><tspan x="1108.63" textLength="8.76" lengthAdjust="spacingAndGlyphs">S</tspan><tspan x="1118.01" textLength="8.49" lengthAdjust="spacingAndGlyphs">e</tspan><tspan x="1126.49" textLength="7.58" lengthAdjust="spacingAndGlyphs">c</tspan><tspan x="1134.20" textLength="4.65" lengthAdjust="spacingAndGlyphs">/</tspan><tspan x="1138.23" textLength="8.76" lengthAdjust="spacingAndGlyphs">S</tspan><tspan x="1147.56" textLength="8.66" lengthAdjust="spacingAndGlyphs">P</tspan><tspan x="1155.43" textLength="4.07" lengthAdjust="spacingAndGlyphs">I</tspan> <tspan x="1164.01" textLength="8.74" lengthAdjust="spacingAndGlyphs">n</tspan></text>
<text y="103.00" font-size="14.72" fill="#000" stroke="#fff" stroke-width="0.005"><tspan x="1108.63" textLength="8.76" lengthAdjust="spacingAndGlyphs">S</tspan><tspan x="1118.01" textLength="8.49" lengthAdjust="spacingAndGlyphs">e</tspan><tspan x="1126.49" textLength="7.58" lengthAdjust="spacingAndGlyphs">c</tspan><tspan x="1134.20" textLength="4.65" lengthAdjust="spacingAndGlyphs">/</tspan><tspan x="1138.23" textLength="8.76" lengthAdjust="spacingAndGlyphs">S</tspan><tspan x="1147.56" textLength="8.66" lengthAdjust="spacingAndGlyphs">P</tspan><tspan x="1155.43" textLength="4.07" lengthAdjust="spacingAndGlyphs">I</tspan> <tspan x="1164.01" textLength="8.74" lengthAdjust="spacingAndGlyphs">h</tspan></text>
<text y="124.00" font-size="14.72" fill="#000" stroke="#fff" stroke-width="0.005"><tspan x="1108.63" textLength="8.76" lengthAdjust="spacingAndGlyphs">S</tspan><tspan x="1118.01" textLength="8.49" lengthAdjust="spacingAndGlyphs">e</tspan><tspan x="1126.50" textLength="7.59" lengthAdjust="spacingAndGlyphs">c</tspan><tspan x="1134.22" textLength="4.65" lengthAdjust="spacingAndGlyphs">/</tspan><tspan x="1138.24" textLength="8.76" lengthAdjust="spacingAndGlyphs">S</tspan><tspan x="1147.46" textLength="8.66" lengthAdjust="spacingAndGlyphs">P</tspan><tspan x="1155.45" textLength="4.07" lengthAdjust="spacingAndGlyphs">I</tspan> <tspan x="1164.16" textLength="7.59" lengthAdjust="spacingAndGlyphs">c</tspan></text>
</svg></body></html>
